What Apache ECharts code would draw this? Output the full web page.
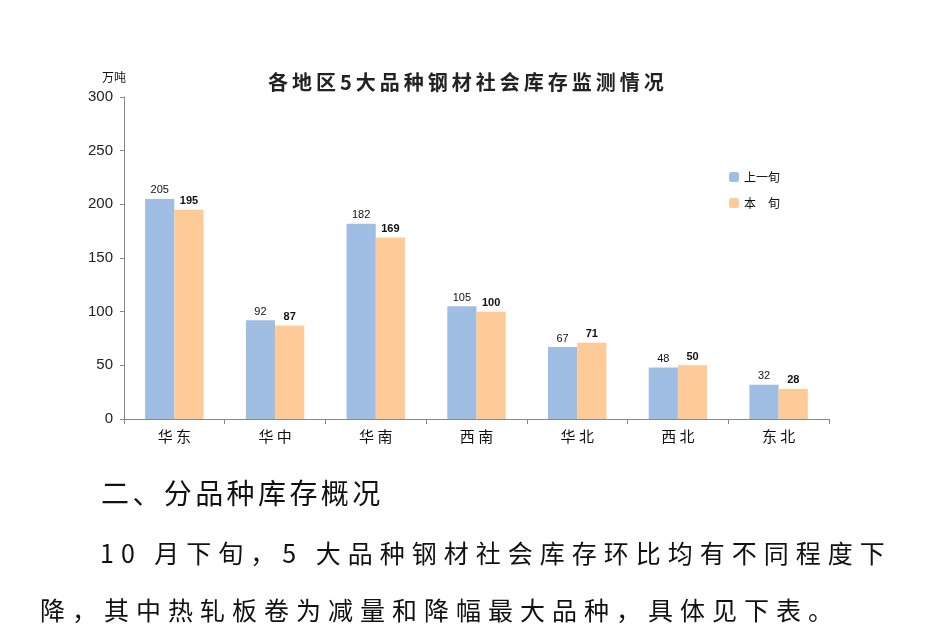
<!DOCTYPE html>
<html><head><meta charset="utf-8">
<script src="https://cdn.jsdelivr.net/npm/echarts@6/dist/echarts.min.js"></script>
<style>
html,body{margin:0;padding:0;background:#fff;}
#wrap{position:relative;width:936px;height:639px;overflow:hidden;}
#chart{position:absolute;left:0;top:0;width:936px;height:639px;}
.t{position:absolute;font-family:"Noto Sans CJK SC";color:#111;white-space:nowrap;}
</style></head>
<body><div id="wrap"><div id="chart"></div>
<div class="t" id="ttl" style="left:268px;top:66px;font-size:20px;line-height:32px;font-weight:bold;letter-spacing:4px;color:#222;">各地区5大品种钢材社会库存监测情况</div>
<div class="t" style="left:101px;top:472px;font-size:28px;line-height:40px;letter-spacing:3.4px;">二、分品种库存概况</div>
<div class="t" style="left:100px;top:534px;font-size:25px;letter-spacing:7px;">10 月下旬，5 大品种钢材社会库存环比均有不同程度下</div>
<div class="t" style="left:40px;top:591px;font-size:25px;letter-spacing:7px;">降，其中热轧板卷为减量和降幅最大品种，具体见下表。</div>
</div>
<script>
const categories = ['华东','华中','华南','西南','华北','西北','东北'];
const prevValues = [205, 92, 182, 105, 67, 48, 32];
const currValues = [195, 87, 169, 100, 71, 50, 28];
const seriesNames = ['上一旬','本　旬'];
const yTicks = [0, 50, 100, 150, 200, 250, 300];

const chart = echarts.init(document.getElementById('chart'));
chart.setOption({
  animation:false,
  legend:{orient:'vertical',left:724,top:166,itemWidth:10,itemHeight:10,itemGap:14,
    textStyle:{fontFamily:'Noto Sans CJK SC',fontSize:12,color:'#111'},
    data:seriesNames},
  grid:{left:124,right:107,top:97,bottom:220},
  xAxis:{type:'category',data:categories,
    axisLine:{lineStyle:{color:'#888'}},
    axisTick:{show:true,alignWithLabel:false,length:5,lineStyle:{color:'#888'}},
    axisLabel:{fontFamily:'Noto Sans CJK SC',fontSize:15,color:'#111',margin:10,
      formatter:v=>v.split('').join(' ')}},
  yAxis:{type:'value',min:yTicks[0],max:yTicks[yTicks.length-1],interval:50,
    name:'万吨',nameLocation:'end',nameGap:14,
    nameTextStyle:{fontFamily:'Noto Sans CJK SC',fontSize:12,color:'#111',align:'right',padding:[0,-2,0,0]},
    axisLine:{show:true,lineStyle:{color:'#888'}},
    axisTick:{show:true,length:4,lineStyle:{color:'#888'}},
    splitLine:{show:false},
    axisLabel:{fontFamily:'Arial',fontSize:15,color:'#222',margin:11}},
  series:[
    {name:seriesNames[0],type:'bar',data:prevValues,barWidth:'29%',barGap:'0%',
     itemStyle:{color:'#a0bee4'},
     label:{show:true,position:'top',fontFamily:'Arial',fontSize:11,color:'#111',distance:3}},
    {name:seriesNames[1],type:'bar',data:currValues,barWidth:'29%',
     itemStyle:{color:'#fdca98'},
     label:{show:true,position:'top',fontFamily:'Arial',fontSize:11,fontWeight:'bold',color:'#111',distance:3}}
  ]
});
</script></body></html>
